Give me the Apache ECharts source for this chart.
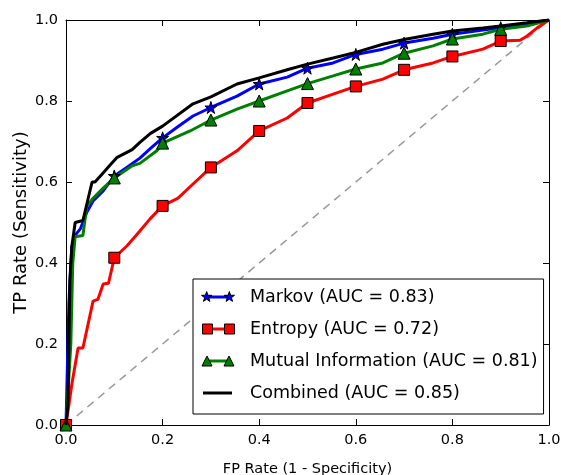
<!DOCTYPE html>
<html>
<head>
<meta charset="utf-8">
<script src="https://cdn.jsdelivr.net/npm/echarts@6/dist/echarts.min.js"></script>
<style>
  html, body { margin: 0; padding: 0; background: #fff; }
  #chart { width: 561px; height: 475px; }
</style>
</head>
<body>
<div id="chart"></div>
<script>
// ROC curves, points as [fpr, tpr]
const markovRoc = [
  [0, 0], [0.006, 0.30], [0.012, 0.44], [0.02, 0.47], [0.03, 0.485], [0.043, 0.525],
  [0.056, 0.553], [0.077, 0.578], [0.1, 0.615], [0.125, 0.635], [0.153, 0.659],
  [0.175, 0.683], [0.2, 0.709], [0.23, 0.735], [0.263, 0.763], [0.3, 0.784],
  [0.354, 0.812], [0.4, 0.842], [0.458, 0.859], [0.5, 0.881], [0.553, 0.894],
  [0.6, 0.915], [0.656, 0.928], [0.7, 0.943], [0.76, 0.955], [0.8, 0.965],
  [0.863, 0.975], [0.9, 0.981], [0.954, 0.99], [1, 1]
];
const entropyRoc = [
  [0, 0], [0.012, 0.10], [0.025, 0.19], [0.035, 0.19], [0.056, 0.306], [0.066, 0.31],
  [0.077, 0.348], [0.088, 0.35], [0.1, 0.413], [0.126, 0.442], [0.153, 0.479],
  [0.174, 0.509], [0.2, 0.541], [0.232, 0.56], [0.263, 0.595], [0.3, 0.636],
  [0.354, 0.677], [0.4, 0.726], [0.458, 0.758], [0.5, 0.795], [0.553, 0.817],
  [0.6, 0.836], [0.656, 0.854], [0.7, 0.877], [0.76, 0.894], [0.8, 0.91],
  [0.863, 0.928], [0.9, 0.948], [0.94, 0.95], [0.954, 0.96], [0.975, 0.98], [1, 1]
];
const mutualRoc = [
  [0, 0], [0.01, 0.2], [0.014, 0.40], [0.019, 0.465], [0.035, 0.468], [0.043, 0.54],
  [0.056, 0.56], [0.077, 0.585], [0.1, 0.61], [0.137, 0.64], [0.153, 0.646],
  [0.188, 0.677], [0.2, 0.696], [0.257, 0.726], [0.3, 0.753], [0.354, 0.78],
  [0.4, 0.80], [0.458, 0.825], [0.5, 0.843], [0.553, 0.862], [0.6, 0.879],
  [0.656, 0.894], [0.7, 0.918], [0.76, 0.936], [0.8, 0.953], [0.863, 0.965],
  [0.9, 0.977], [0.954, 0.985], [1, 1]
];
const combinedRoc = [
  [0, 0], [0.004, 0.05], [0.008, 0.356], [0.012, 0.44], [0.019, 0.50], [0.035, 0.505],
  [0.054, 0.60], [0.06, 0.60], [0.075, 0.62], [0.09, 0.64], [0.105, 0.66],
  [0.137, 0.68], [0.153, 0.698], [0.175, 0.72], [0.2, 0.738], [0.263, 0.793],
  [0.3, 0.81], [0.354, 0.842], [0.4, 0.857], [0.458, 0.877], [0.5, 0.891],
  [0.553, 0.906], [0.6, 0.92], [0.656, 0.94], [0.7, 0.952], [0.76, 0.965],
  [0.8, 0.973], [0.863, 0.98], [0.9, 0.985], [0.954, 0.993], [1, 1]
];
const chanceLine = [[0, 0], [1, 1]];
// marker every 0.1 on fpr
const markerX = [0, 0.1, 0.2, 0.3, 0.4, 0.5, 0.6, 0.7, 0.8, 0.9];
const seriesNames = [
  'Markov (AUC = 0.83)',
  'Entropy (AUC = 0.72)',
  'Mutual Information (AUC = 0.81)',
  'Combined (AUC = 0.85)'
];
const tickValues = [0, 0.2, 0.4, 0.6, 0.8, 1.0];

function starPath(cx, cy, R, r) {
  let d = '';
  for (let i = 0; i < 10; i++) {
    const a = (-90 + i * 36) * Math.PI / 180;
    const rad = i % 2 ? r : R;
    d += (i ? 'L' : 'M') + (cx + rad * Math.cos(a)).toFixed(2) + ' ' + (cy + rad * Math.sin(a)).toFixed(2);
  }
  return d + 'Z';
}
function squarePath(cx, cy, h) {
  return 'M' + (cx - h) + ' ' + (cy - h) + 'L' + (cx + h) + ' ' + (cy - h) +
    'L' + (cx + h) + ' ' + (cy + h) + 'L' + (cx - h) + ' ' + (cy + h) + 'Z';
}
function trianglePath(cx, cy, h) {
  return 'M' + cx + ' ' + (cy - h) + 'L' + (cx + h) + ' ' + (cy + h) + 'L' + (cx - h) + ' ' + (cy + h) + 'Z';
}

const starSymbol = 'path://' + starPath(0, 0, 50, 19);
const box = 'M0 0M33 14';
const lineIcon = function (x0, x1) {
  return 'path://' + box + 'M' + x0 + ' 5.5L' + x1 + ' 5.5L' + x1 + ' 8.5L' + x0 + ' 8.5Z';
};
const markIcons = [
  'path://' + box + starPath(5, 7, 5.5, 2.2) + starPath(28, 7, 5.5, 2.2),
  'path://' + box + squarePath(6, 7, 5) + squarePath(28, 7, 5),
  'path://' + box + trianglePath(5.5, 7, 5) + trianglePath(27.5, 7, 5),
  'path://' + box
];

function withMarkers(points) {
  return points.map(function (p) {
    const isMark = markerX.some(function (m) { return Math.abs(m - p[0]) < 1e-9; });
    return isMark ? { value: p } : { value: p, symbol: 'none' };
  });
}

const chart = echarts.init(document.getElementById('chart'));

const font = 'DejaVu Sans';
const legendBase = {
  orient: 'vertical',
  left: 193,
  top: 279,
  padding: [8, 6, 11, 8],
  itemGap: 12,
  itemWidth: 33,
  itemHeight: 14,
  symbolKeepAspect: true,
  selectedMode: false
};

function rocSeries(name, data, color, symbol, size) {
  return {
    name: name,
    type: 'line',
    data: withMarkers(data),
    symbol: symbol,
    symbolSize: size,
    showSymbol: true,
    showAllSymbol: true,
    lineStyle: { color: color, width: 3 },
    itemStyle: { color: color, borderColor: '#000', borderWidth: 1 },
    z: 3
  };
}

const axisCommon = {
  type: 'value',
  min: 0,
  max: 1,
  interval: 0.2,
  axisLine: { show: true, onZero: false, lineStyle: { color: '#000', width: 1 } },
  axisTick: { show: true, inside: true, length: 6, lineStyle: { color: '#000' } },
  splitLine: { show: false }
};

const option = {
  animation: false,
  backgroundColor: '#fff',
  grid: { left: 66, right: 12, top: 20, bottom: 50, outerBoundsMode: 'none' },
  legend: [
    Object.assign({}, legendBase, {
      backgroundColor: '#fff',
      borderColor: '#000',
      borderWidth: 1,
      borderRadius: 0,
      z: 5,
      itemStyle: { borderWidth: 0 },
      textStyle: { fontFamily: font, fontSize: 17.5, lineHeight: 20, color: '#000', padding: [0, 0, 0, 11] },
      data: [
        { name: seriesNames[0], icon: lineIcon(5, 28) },
        { name: seriesNames[1], icon: lineIcon(6, 28) },
        { name: seriesNames[2], icon: lineIcon(5.5, 27.5) },
        { name: seriesNames[3], icon: lineIcon(2, 31) }
      ]
    }),
    Object.assign({}, legendBase, {
      z: 6,
      itemStyle: { borderColor: '#000', borderWidth: 1 },
      textStyle: { fontFamily: font, fontSize: 17.5, lineHeight: 20, color: 'rgba(0,0,0,0)', padding: [0, 0, 0, 11] },
      data: seriesNames.map(function (n, i) { return { name: n, icon: markIcons[i] }; })
    })
  ],
  xAxis: [
    Object.assign({}, axisCommon, {
      position: 'bottom',
      name: 'FP Rate (1 - Specificity)',
      nameLocation: 'middle',
      nameGap: 37,
      nameMoveOverlap: false,
      nameTextStyle: { fontFamily: font, fontSize: 14.5, color: '#000' },
      axisLabel: {
        fontFamily: font, fontSize: 14.5, color: '#000', margin: 8,
        formatter: function (v) { return tickValues.indexOf(+v.toFixed(1)) >= 0 ? v.toFixed(1) : ''; }
      }
    }),
    Object.assign({}, axisCommon, { position: 'top', axisLabel: { show: false } })
  ],
  yAxis: [
    Object.assign({}, axisCommon, {
      position: 'left',
      name: 'TP Rate (Sensitivity)',
      nameLocation: 'middle',
      nameGap: 36,
      nameRotate: 90,
      nameMoveOverlap: false,
      nameTextStyle: { fontFamily: font, fontSize: 18, color: '#000' },
      axisLabel: {
        fontFamily: font, fontSize: 14.5, color: '#000', margin: 8,
        formatter: function (v) { return v.toFixed(1); }
      }
    }),
    Object.assign({}, axisCommon, { position: 'right', axisLabel: { show: false } })
  ],
  series: [
    {
      name: 'chance',
      type: 'line',
      data: chanceLine,
      symbol: 'none',
      silent: true,
      lineStyle: { color: '#999', width: 1.5, type: [8, 6] },
      z: 1
    },
    rocSeries(seriesNames[0], markovRoc, '#0000ff', starSymbol, 12),
    rocSeries(seriesNames[1], entropyRoc, '#ff0000', 'rect', 11),
    rocSeries(seriesNames[2], mutualRoc, '#008000', 'triangle', 12),
    {
      name: seriesNames[3],
      type: 'line',
      data: combinedRoc,
      symbol: 'none',
      lineStyle: { color: '#000', width: 3 },
      itemStyle: { color: '#000' },
      z: 4
    }
  ]
};

chart.setOption(option);

window.addEventListener('resize', function () {
  chart.resize();
});
</script>
</body>
</html>
